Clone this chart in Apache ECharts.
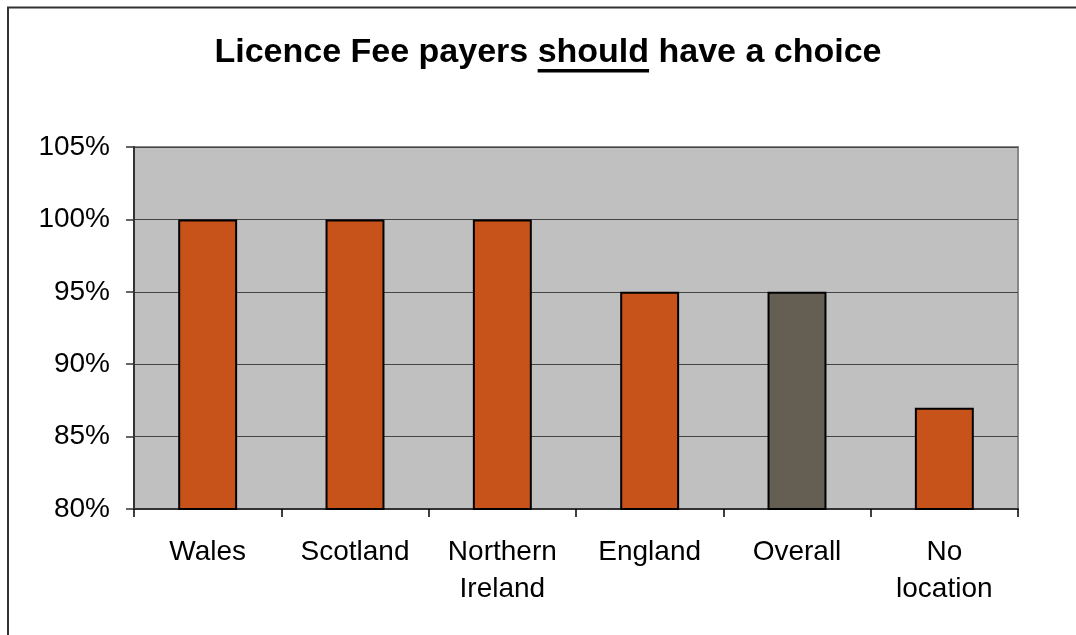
<!DOCTYPE html>
<html>
<head>
<meta charset="utf-8">
<script src="https://cdn.jsdelivr.net/npm/echarts@6/dist/echarts.min.js"></script>
<style>
  html, body { margin: 0; padding: 0; background: #fff; }
  #chart { width: 1076px; height: 635px; }
</style>
</head>
<body>
<div id="chart"></div>
<script>
// Share of respondents per location saying licence fee payers should have a choice
const categories = ['Wales', 'Scotland', 'Northern\nIreland', 'England', 'Overall', 'No\nlocation'];
const values = [100, 100, 100, 95, 95, 87];
const highlighted = 'Overall';
const yTicks = { min: 80, max: 105, interval: 5 };

const titleParts = ['Licence Fee payers ', 'should', ' have a choice'];

const ORANGE = '#C8531A';
const TAUPE = '#655E53';
const FONT = '"Liberation Sans", Arial, sans-serif';
const TITLE_SIZE = 34;
const TITLE_CENTER_X = 548;
const TITLE_TOP = 36;

const chart = echarts.init(document.getElementById('chart'), null, { renderer: 'canvas' });

// Measure the title pieces so the underline sits under the emphasised word
const ctx = document.createElement('canvas').getContext('2d');
ctx.font = 'bold ' + TITLE_SIZE + 'px ' + FONT;
const wPre = ctx.measureText(titleParts[0]).width;
const wMid = ctx.measureText(titleParts[1]).width;
const wAll = ctx.measureText(titleParts.join('')).width;
const titleLeft = TITLE_CENTER_X - wAll / 2;

chart.setOption({
  animation: false,
  backgroundColor: '#ffffff',
  title: {
    text: titleParts.join(''),
    left: titleLeft,
    top: TITLE_TOP,
    padding: 0,
    textStyle: {
      fontFamily: FONT,
      fontWeight: 'bold',
      fontSize: TITLE_SIZE,
      color: '#000'
    }
  },
  graphic: [
    {
      type: 'rect',
      silent: true,
      shape: { x: 8, y: 7.5, width: 1200, height: 800 },
      style: { fill: 'none', stroke: '#333', lineWidth: 2 }
    },
    {
      type: 'rect',
      silent: true,
      shape: { x: titleLeft + wPre, y: 69, width: wMid, height: 3.5 },
      style: { fill: '#000' }
    }
  ],
  grid: {
    left: 134,
    right: 58,
    top: 147,
    bottom: 126,
    show: true,
    backgroundColor: '#C0C0C0',
    borderColor: '#888888',
    borderWidth: 2
  },
  xAxis: {
    type: 'category',
    data: categories,
    axisLine: { lineStyle: { color: '#333', width: 2 } },
    axisTick: { show: true, length: 8, lineStyle: { color: '#000', width: 1.5 } },
    axisLabel: {
      fontFamily: FONT,
      fontSize: 28,
      lineHeight: 37,
      color: '#000',
      margin: 25,
      interval: 0
    }
  },
  yAxis: {
    type: 'value',
    min: yTicks.min,
    max: yTicks.max,
    interval: yTicks.interval,
    axisLine: { show: true, lineStyle: { color: '#333', width: 2 } },
    axisTick: { show: true, length: 8, lineStyle: { color: '#333', width: 1.5 } },
    splitLine: { show: true, lineStyle: { color: '#444', width: 1 } },
    axisLabel: {
      fontFamily: FONT,
      fontSize: 28,
      color: '#000',
      margin: 24,
      formatter: v => v + '%'
    }
  },
  series: [{
    type: 'bar',
    barWidth: '40%',
    data: values.map((v, i) => ({
      value: v,
      itemStyle: { color: categories[i] === highlighted ? TAUPE : ORANGE }
    })),
    itemStyle: { borderColor: '#000', borderWidth: 2 }
  }]
});
</script>
</body>
</html>
